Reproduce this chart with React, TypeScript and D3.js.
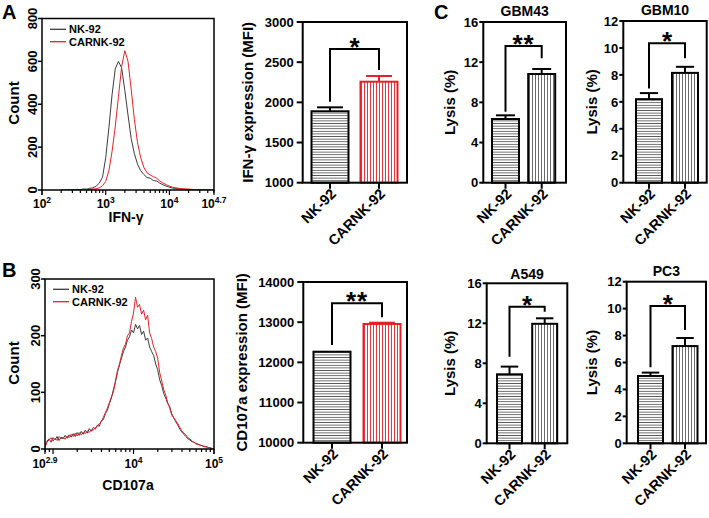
import React from 'react';
import * as d3 from 'd3';

const FONT = "'Liberation Sans', Arial, Helvetica, sans-serif";
const RED = '#e4212b';
const HIST_GRAY = '#3c3c3c';

// ---------- Panel A histogram (IFN-γ), log10 bins 2.30 -> 4.70 ----------
const histA_binStart = 2.3;
const histA_binEnd = 4.7;
const histA_nk = [0, 0, 0, 2, 1, 3, 2, 5, 4, 8, 10, 18, 32, 60, 150, 290, 445, 565, 600, 570, 465, 350, 240, 170, 120, 90, 72, 58, 55, 44, 42, 32, 24, 18, 13, 9, 7, 5, 4, 3, 3, 2, 2, 1, 1, 1, 0, 0, 0];
const histA_car = [0, 0, 0, 0, 1, 0, 1, 2, 2, 3, 4, 6, 10, 20, 40, 90, 180, 295, 435, 575, 650, 600, 470, 330, 220, 150, 105, 80, 70, 62, 55, 42, 32, 25, 18, 13, 10, 8, 6, 5, 4, 3, 2, 2, 1, 1, 0, 0, 0];
const histA_yTicks = [0, 200, 400, 600, 800];
const histA_xLabels = [
  { v: 2, exp: '2' },
  { v: 3, exp: '3' },
  { v: 4, exp: '4' },
  { v: 4.7, exp: '4.7' },
];

// ---------- Panel B histogram (CD107a), log10 bins 2.90 -> 5.00 ----------
const histB_binStart = 2.9;
const histB_binEnd = 5.0;
const histB_nk = [
  5, 14, 18, 12, 20, 16, 22, 15, 21, 18,
  24, 19, 25, 21, 27, 22, 29, 24, 31, 26,
  33, 28, 36, 31, 38, 35, 42, 40, 50, 52,
  62, 68, 80, 90, 105, 118, 135, 148, 160, 172,
  180, 192, 198, 210, 205, 220, 212, 218, 202, 208,
  192, 196, 180, 172, 165, 150, 140, 122, 112, 98,
  90, 80, 75, 62, 55, 48, 42, 35, 30, 26,
  22, 18, 16, 13, 12, 9, 8, 7, 6, 4,
  4, 3, 2, 1, 0,
];
const histB_car = [
  3, 12, 16, 20, 14, 19, 15, 22, 18, 21,
  17, 23, 20, 26, 22, 28, 23, 29, 25, 30,
  27, 32, 29, 34, 33, 38, 40, 45, 48, 56,
  64, 72, 82, 92, 100, 120, 138, 150, 165, 178,
  185, 200, 205, 225, 240, 268, 250, 255, 238, 245,
  228, 236, 205, 195, 180, 172, 160, 135, 120, 105,
  95, 82, 72, 60, 55, 50, 45, 38, 32, 28,
  25, 20, 18, 14, 12, 10, 9, 7, 6, 5,
  4, 3, 2, 1, 0,
];
const histB_yTicks = [0, 100, 200, 300];
const histB_xLabels = [
  { v: 2.9, exp: '2.9' },
  { v: 4, exp: '4' },
  { v: 5, exp: '5' },
];

const legendNames = ['NK-92', 'CARNK-92'];

// ---------- Bar charts ----------
const categories = ['NK-92', 'CARNK-92'];

const ifnMean = [1889, 2257];
const ifnErr = [49, 71];
const ifnTicks = [1000, 1500, 2000, 2500, 3000];
const ifnBracket = [2008, 2664, 2402];

const cdMean = [12265, 12955];
const cdErr = [0, 32];
const cdTicks = [10000, 11000, 12000, 13000, 14000];
const cdBracket = [12432, 13470, 13121];

const gbm43Mean = [6.34, 10.82];
const gbm43Err = [0.37, 0.5];
const gbm43Ticks = [0, 4, 8, 12, 16];
const gbm43Bracket = [7.07, 13.61, 12.39];

const gbm10Mean = [6.2, 8.15];
const gbm10Err = [0.45, 0.45];
const gbm10Ticks = [0, 2, 4, 6, 8, 10, 12];
const gbm10Bracket = [7.0, 10.35, 9.23];

const a549Mean = [6.9, 11.95];
const a549Err = [0.77, 0.55];
const a549Ticks = [0, 4, 8, 12, 16];
const a549Bracket = [8.66, 13.66, 13.16];

const pc3Mean = [5.0, 7.22];
const pc3Err = [0.25, 0.6];
const pc3Ticks = [0, 2, 4, 6, 8, 10, 12];
const pc3Bracket = [5.64, 10.2, 8.41];

type HistProps = {
  x0: number; x1: number; y0: number; y1: number;
  dom: [number, number]; yMax: number; yTicks: number[];
  binStart: number; binEnd: number; nk: number[]; car: number[];
  xLabels: { v: number; exp: string }[]; xLabelY: number;
  title: string; titleX: number; titleY: number;
  countX: number; countY: number;
  legY: [number, number]; clipId: string;
};

function Hist(p: HistProps) {
  const xs = d3.scaleLinear().domain(p.dom).range([p.x0, p.x1]);
  const ys = d3.scaleLinear().domain([0, p.yMax]).range([p.y1, p.y0]);
  const mk = (arr: number[]) => {
    const step = (p.binEnd - p.binStart) / (arr.length - 1);
    return d3.line<number>().x((_, i) => xs(p.binStart + i * step)).y((d) => ys(d))(arr) || '';
  };
  const ticks: { v: number; major: boolean }[] = [];
  for (let d = Math.floor(p.dom[0]); d <= Math.ceil(p.dom[1]); d++) {
    for (let k = 1; k <= 9; k++) {
      const lv = d + Math.log10(k);
      if (lv >= p.dom[0] - 1e-6 && lv <= p.dom[1] + 1e-6) ticks.push({ v: lv, major: k === 1 });
    }
  }
  ticks.push({ v: p.dom[0], major: true });
  ticks.push({ v: p.dom[1], major: true });
  return (
    <g>
      <defs>
        <clipPath id={p.clipId}>
          <rect x={p.x0} y={p.y0} width={p.x1 - p.x0} height={p.y1 - p.y0} />
        </clipPath>
      </defs>
      <g clipPath={`url(#${p.clipId})`}>
        <path d={mk(p.nk)} fill="none" stroke={HIST_GRAY} strokeWidth={1} />
        <path d={mk(p.car)} fill="none" stroke={RED} strokeWidth={1} />
      </g>
      <rect x={p.x0} y={p.y0} width={p.x1 - p.x0} height={p.y1 - p.y0} fill="none" stroke="#000" strokeWidth={1.5} />
      {ticks.map((t, i) => (
        <line key={i} x1={xs(t.v)} x2={xs(t.v)} y1={p.y1} y2={p.y1 + (t.major ? 5 : 3)} stroke="#000" strokeWidth={1.2} />
      ))}
      {p.xLabels.map((l, i) => (
        <text key={i} x={xs(l.v)} y={p.xLabelY} textAnchor="middle" fontSize={12} fontWeight="bold" fontFamily={FONT}>
          10<tspan dy={-5} fontSize={8.5}>{l.exp}</tspan>
        </text>
      ))}
      {p.yTicks.map((v, i) => (
        <g key={i}>
          <line x1={p.x0 - 4} x2={p.x0} y1={ys(v)} y2={ys(v)} stroke="#000" strokeWidth={1.5} />
          <text transform={`translate(${p.x0 - 5},${ys(v)}) rotate(-90)`} textAnchor="middle" fontSize={13} fontWeight="bold" fontFamily={FONT}>{v}</text>
        </g>
      ))}
      <text x={p.titleX} y={p.titleY} textAnchor="middle" fontSize={14} fontWeight="bold" fontFamily={FONT}>{p.title}</text>
      <text transform={`translate(${p.countX},${p.countY}) rotate(-90)`} textAnchor="middle" dy="0.35em" fontSize={15} fontWeight="bold" fontFamily={FONT}>Count</text>
      {legendNames.map((n, i) => (
        <g key={n}>
          <line x1={p.x0 + 8} x2={p.x0 + 24} y1={p.legY[i]} y2={p.legY[i]} stroke={i === 0 ? HIST_GRAY : RED} strokeWidth={1.3} />
          <text x={p.x0 + 27} y={p.legY[i] + 4} fontSize={11} fontWeight="bold" fontFamily={FONT}>{n}</text>
        </g>
      ))}
    </g>
  );
}

type BarProps = {
  x0: number; x1: number; y0: number; y1: number;
  centers: [number, number]; bw: number;
  domain: [number, number]; ticks: number[];
  mean: number[]; err: number[]; bracket: number[]; sig: string;
  fills: [string, string]; strokes: [string, string];
  ylabel: string; ylabelX: number;
  tickLen: number; labelGap: number;
  title?: string; titleY?: number;
};

function Bars(p: BarProps) {
  const xs = d3.scalePoint<string>().domain(categories).range(p.centers);
  const ys = d3.scaleLinear().domain(p.domain).range([p.y1, p.y0]);
  const cx = (i: number) => xs(categories[i]) as number;
  const [bLo, bTop, bRight] = p.bracket;
  const yTop = ys(bTop);
  return (
    <g fontFamily={FONT}>
      {p.mean.map((m, i) => {
        const x = cx(i);
        const capW = p.bw * 0.7;
        return (
          <g key={i}>
            {p.err[i] > 0 && (
              <g stroke={p.strokes[i]} strokeWidth={2}>
                <line x1={x} x2={x} y1={ys(m)} y2={ys(m + p.err[i])} />
                <line x1={x - capW / 2} x2={x + capW / 2} y1={ys(m + p.err[i])} y2={ys(m + p.err[i])} />
              </g>
            )}
            <rect x={x - p.bw / 2} y={ys(m)} width={p.bw} height={p.y1 - ys(m)} fill={p.fills[i]} stroke={p.strokes[i]} strokeWidth={2} />
          </g>
        );
      })}
      <rect x={p.x0} y={p.y0} width={p.x1 - p.x0} height={p.y1 - p.y0} fill="none" stroke="#000" strokeWidth={2} />
      {p.ticks.map((t, i) => (
        <g key={i}>
          <line x1={p.x0 - p.tickLen} x2={p.x0} y1={ys(t)} y2={ys(t)} stroke="#000" strokeWidth={2} />
          <text x={p.x0 - p.labelGap} y={ys(t)} dy="0.36em" textAnchor="end" fontSize={13} fontWeight="bold">{t}</text>
        </g>
      ))}
      {categories.map((c, i) => (
        <g key={c}>
          <line x1={cx(i)} x2={cx(i)} y1={p.y1} y2={p.y1 + 6} stroke="#000" strokeWidth={2} />
          <text transform={`translate(${cx(i) + 7},${p.y1 + 12}) rotate(-45)`} textAnchor="end" fontSize={14.5} fontWeight="bold">{c}</text>
        </g>
      ))}
      <path d={`M${cx(0)},${ys(bLo)}V${yTop}H${cx(1)}V${ys(bRight)}`} fill="none" stroke="#000" strokeWidth={2} />
      <text x={(cx(0) + cx(1)) / 2} y={yTop + 7} textAnchor="middle" fontSize={26} fontWeight="bold" letterSpacing={p.sig.length > 1 ? 1 : 0}>{p.sig}</text>
      <text transform={`translate(${p.ylabelX},${(p.y0 + p.y1) / 2}) rotate(-90)`} textAnchor="middle" dy="0.35em" fontSize={15} fontWeight="bold">{p.ylabel}</text>
      {p.title && (
        <text x={(p.x0 + p.x1) / 2} y={p.titleY} textAnchor="middle" fontSize={14} fontWeight="bold">{p.title}</text>
      )}
    </g>
  );
}

export default function App() {
  const H = 'url(#hstripe)';
  const VR = 'url(#vstripeRed)';
  const VG = 'url(#vstripeGray)';
  return (
    <svg width={709} height={518} style={{ position: 'absolute', left: 0, top: 0, background: '#fff' }}>
      <defs>
        <pattern id="hstripe" patternUnits="userSpaceOnUse" width={6} height={2.6}>
          <rect width={6} height={2.6} fill="#fff" />
          <line x1={0} x2={6} y1={1.3} y2={1.3} stroke="#5a5a5a" strokeWidth={0.9} />
        </pattern>
        <pattern id="vstripeRed" patternUnits="userSpaceOnUse" width={3} height={6}>
          <rect width={3} height={6} fill="#fff" />
          <line x1={1.5} x2={1.5} y1={0} y2={6} stroke={RED} strokeWidth={0.9} />
        </pattern>
        <pattern id="vstripeGray" patternUnits="userSpaceOnUse" width={3} height={6}>
          <rect width={3} height={6} fill="#fff" />
          <line x1={1.5} x2={1.5} y1={0} y2={6} stroke="#5a5a5a" strokeWidth={0.9} />
        </pattern>
      </defs>
      <rect width={709} height={518} fill="#fff" />

      {/* Panel letters */}
      <text x={2} y={19} fontSize={20} fontWeight="bold" fontFamily={FONT}>A</text>
      <text x={2} y={277} fontSize={20} fontWeight="bold" fontFamily={FONT}>B</text>
      <text x={434} y={19} fontSize={20} fontWeight="bold" fontFamily={FONT}>C</text>

      <Hist x0={42} x1={214} y0={18.5} y1={190} dom={[2, 4.7]} yMax={800} yTicks={histA_yTicks}
        binStart={histA_binStart} binEnd={histA_binEnd} nk={histA_nk} car={histA_car}
        xLabels={histA_xLabels} xLabelY={208} title="IFN-γ" titleX={126} titleY={222}
        countX={14} countY={103} legY={[29.3, 41.7]} clipId="clipA" />

      <Hist x0={45} x1={214} y0={279} y1={449} dom={[2.9, 5]} yMax={300} yTicks={histB_yTicks}
        binStart={histB_binStart} binEnd={histB_binEnd} nk={histB_nk} car={histB_car}
        xLabels={histB_xLabels} xLabelY={468} title="CD107a" titleX={128} titleY={490}
        countX={14} countY={363} legY={[289.3, 301.7]} clipId="clipB" />

      <Bars x0={302.7} x1={407} y0={22} y1={182.7} centers={[330, 379]} bw={37}
        domain={[1000, 3000]} ticks={ifnTicks} mean={ifnMean} err={ifnErr} bracket={ifnBracket} sig="*"
        fills={[H, VR]} strokes={['#000', RED]} ylabel="IFN-γ expression (MFI)" ylabelX={248}
        tickLen={6} labelGap={9} />

      <Bars x0={303.3} x1={407} y0={282} y1={442.7} centers={[332, 382]} bw={37}
        domain={[10000, 14000]} ticks={cdTicks} mean={cdMean} err={cdErr} bracket={cdBracket} sig="**"
        fills={[H, VR]} strokes={['#000', RED]} ylabel="CD107a expression (MFI)" ylabelX={241.5}
        tickLen={6} labelGap={9} />

      <Bars x0={483.3} x1={566} y0={22} y1={182.7} centers={[505.5, 541.7]} bw={27}
        domain={[0, 16]} ticks={gbm43Ticks} mean={gbm43Mean} err={gbm43Err} bracket={gbm43Bracket} sig="**"
        fills={[H, VG]} strokes={['#000', '#000']} ylabel="Lysis (%)" ylabelX={450}
        tickLen={4} labelGap={5} title="GBM43" titleY={15.5} />

      <Bars x0={623.3} x1={706.7} y0={21} y1={182.7} centers={[649, 685]} bw={26}
        domain={[0, 12]} ticks={gbm10Ticks} mean={gbm10Mean} err={gbm10Err} bracket={gbm10Bracket} sig="*"
        fills={[H, VG]} strokes={['#000', '#000']} ylabel="Lysis (%)" ylabelX={591.5}
        tickLen={4} labelGap={5} title="GBM10" titleY={15} />

      <Bars x0={486.7} x1={567.3} y0={283.3} y1={443.3} centers={[509.5, 544.7]} bw={25}
        domain={[0, 16]} ticks={a549Ticks} mean={a549Mean} err={a549Err} bracket={a549Bracket} sig="*"
        fills={[H, VG]} strokes={['#000', '#000']} ylabel="Lysis (%)" ylabelX={450}
        tickLen={4} labelGap={5} title="A549" titleY={278.5} />

      <Bars x0={626.7} x1={706} y0={281.7} y1={443.3} centers={[650.5, 685]} bw={25}
        domain={[0, 12]} ticks={pc3Ticks} mean={pc3Mean} err={pc3Err} bracket={pc3Bracket} sig="*"
        fills={[H, VG]} strokes={['#000', '#000']} ylabel="Lysis (%)" ylabelX={591.5}
        tickLen={4} labelGap={5} title="PC3" titleY={276} />
    </svg>
  );
}
